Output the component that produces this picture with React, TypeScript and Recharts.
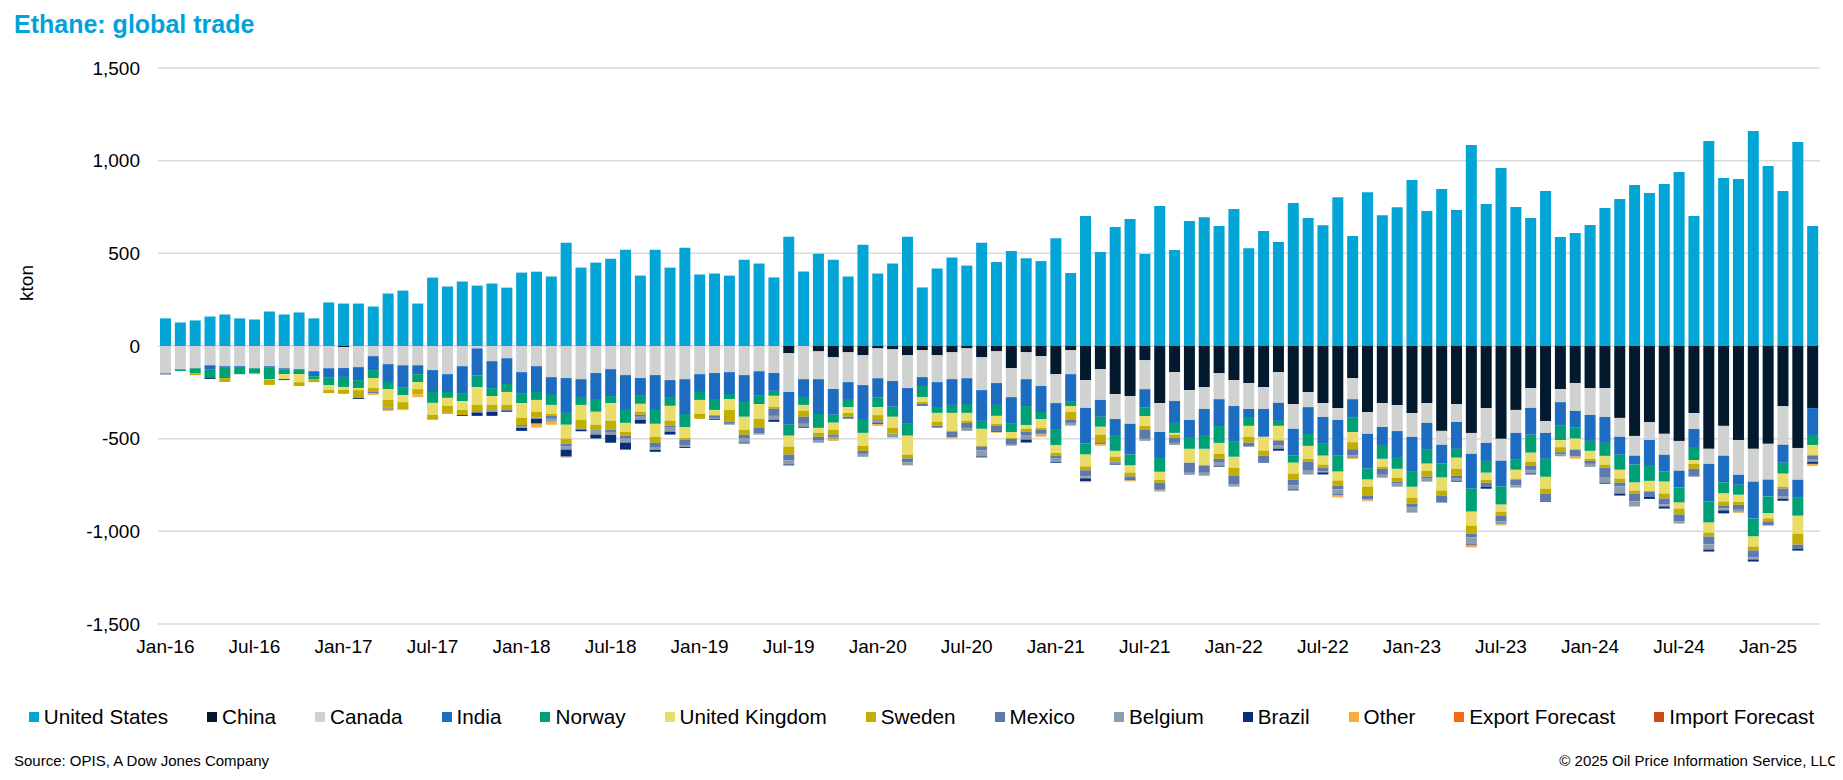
import { Bar, BarChart, CartesianGrid, XAxis, YAxis } from "recharts";

// month labels, Jan-16 .. Apr-25
const MONTH_NAMES = ["Jan", "Feb", "Mar", "Apr", "May", "Jun", "Jul", "Aug", "Sep", "Oct", "Nov", "Dec"];
const YEARS = ["16", "17", "18", "19", "20", "21", "22", "23", "24", "25"];
const MONTHS = YEARS.flatMap((y) => MONTH_NAMES.map((m) => `${m}-${y}`)).slice(0, 112);

const Y_TICKS = [-1500, -1000, -500, 0, 500, 1000, 1500];

// exports, kton (above zero)
const unitedStates = [
  149, 127, 138, 159, 170, 149, 143, 186, 170, 181, 149, 235, 229, 229, 213, 283, 299, 229, 369, 321, 348, 326, 337, 315, 396, 401, 375, 557,
  423, 450, 471, 520, 380, 520, 423, 530, 386, 391, 380, 466, 445, 370, 589, 402, 498, 466, 375, 546, 391, 445, 589, 316, 418, 477, 434, 557,
  453, 512, 474, 458, 582, 394, 701, 507, 642, 685, 496, 755, 518, 674, 695, 647, 739, 528, 620, 561, 771, 690, 652, 803, 593, 830, 706, 749,
  896, 729, 847, 734, 1085, 766, 961, 750, 691, 837, 588, 610, 653, 745, 793, 869, 826, 874, 939, 702, 1106, 907, 901, 1160, 971, 837, 1101, 648,
];

// imports, kton (drawn below zero)
const china = [
  0, 0, 0, 0, 0, 0, 0, 0, 0, 0, 0, 0, 6, 0, 0, 0, 0, 0, 0, 0, 0, 0, 0, 0, 0, 0, 0, 0,
  0, 0, 0, 0, 0, 0, 0, 0, 0, 0, 0, 0, 0, 0, 39, 0, 29, 61, 34, 50, 13, 18, 50, 23, 50, 34, 13, 61,
  29, 120, 34, 55, 152, 23, 184, 125, 260, 270, 77, 308, 141, 238, 222, 147, 184, 200, 222, 141, 313, 249, 308, 335, 174, 356, 308, 319,
  362, 308, 458, 313, 469, 335, 501, 345, 227, 405, 233, 200, 227, 227, 388, 485, 410, 474, 512, 362, 555, 431, 507, 555, 528, 324, 550, 335,
];
const canada = [
  146, 125, 120, 104, 109, 109, 120, 109, 120, 125, 136, 120, 113, 114, 55, 98, 104, 104, 130, 152, 109, 13, 82, 66, 141, 109, 168, 173,
  179, 146, 125, 157, 173, 157, 184, 179, 152, 146, 141, 157, 136, 146, 209, 179, 150, 171, 161, 161, 161, 171, 177, 145, 145, 145, 161, 177,
  171, 156, 145, 161, 156, 129, 150, 166, 134, 150, 156, 156, 156, 161, 118, 140, 140, 140, 118, 166, 134, 81, 75, 64, 113, 118, 129, 140,
  129, 107, 75, 97, 113, 188, 118, 124, 107, 64, 70, 150, 145, 156, 102, 107, 97, 113, 161, 86, 81, 161, 188, 177, 193, 209, 172, 0,
];
const india = [
  3, 3, 0, 21, 9, 9, 0, 5, 5, 0, 27, 48, 48, 70, 75, 96, 118, 48, 118, 96, 145, 145, 145, 139, 113, 139, 96, 188,
  96, 145, 145, 188, 96, 188, 96, 188, 96, 145, 118, 145, 129, 96, 177, 96, 188, 139, 91, 188, 102, 139, 193, 48, 139, 139, 139, 166,
  118, 140, 145, 140, 140, 145, 193, 91, 91, 166, 97, 140, 118, 97, 145, 145, 193, 48, 150, 97, 145, 145, 145, 193, 97, 188, 97, 140,
  188, 145, 102, 145, 188, 97, 140, 145, 145, 140, 124, 91, 140, 140, 97, 48, 140, 91, 91, 97, 204, 145, 54, 199, 91, 97, 97, 145,
];
const norway = [
  0, 7, 27, 48, 55, 34, 27, 64, 27, 27, 16, 43, 54, 43, 43, 38, 43, 43, 59, 32, 43, 64, 43, 43, 54, 43, 54, 64,
  43, 64, 38, 70, 43, 75, 43, 70, 43, 54, 27, 80, 48, 27, 59, 43, 75, 43, 43, 70, 54, 54, 64, 59, 27, 43, 48, 43,
  59, 48, 102, 38, 86, 27, 59, 54, 81, 59, 48, 75, 54, 59, 70, 91, 81, 43, 0, 27, 38, 64, 64, 86, 81, 59, 75, 64,
  81, 75, 75, 48, 124, 64, 97, 54, 97, 97, 81, 59, 54, 70, 81, 97, 81, 54, 81, 70, 113, 59, 54, 97, 91, 59, 97, 54,
];
const unitedKingdom = [
  0, 0, 0, 0, 0, 0, 0, 3, 27, 43, 0, 27, 16, 11, 54, 59, 38, 38, 64, 43, 48, 96, 48, 70, 80, 64, 48, 75,
  80, 70, 96, 48, 43, 70, 80, 59, 75, 27, 59, 70, 80, 59, 59, 32, 27, 38, 32, 70, 43, 59, 102, 27, 48, 96, 43, 91,
  43, 32, 21, 48, 43, 32, 64, 43, 32, 38, 54, 43, 11, 75, 86, 59, 59, 59, 75, 75, 59, 70, 48, 48, 54, 38, 43, 48,
  59, 38, 70, 59, 75, 38, 38, 48, 48, 64, 38, 59, 43, 48, 48, 43, 54, 64, 32, 21, 54, 43, 38, 54, 27, 70, 97, 54,
];
const sweden = [
  0, 0, 11, 0, 21, 0, 5, 29, 0, 21, 16, 16, 21, 43, 21, 43, 38, 27, 27, 38, 27, 38, 27, 27, 38, 32, 11, 27,
  48, 27, 48, 21, 16, 32, 27, 11, 27, 5, 64, 27, 48, 11, 43, 32, 21, 27, 21, 27, 21, 32, 21, 11, 21, 5, 11, 5,
  11, 5, 16, 11, 16, 43, 21, 43, 27, 21, 21, 16, 16, 0, 5, 27, 43, 32, 27, 5, 32, 16, 16, 27, 38, 48, 11, 21,
  32, 32, 27, 38, 43, 16, 21, 5, 21, 27, 27, 0, 11, 16, 21, 16, 5, 27, 32, 27, 21, 21, 16, 21, 16, 11, 59, 5,
];
const mexico = [
  5, 0, 0, 0, 0, 0, 0, 0, 0, 0, 0, 0, 0, 0, 7, 0, 0, 0, 0, 0, 0, 5, 0, 5, 5, 0, 16, 16,
  5, 5, 16, 16, 11, 27, 11, 27, 0, 11, 11, 21, 32, 38, 32, 38, 21, 11, 11, 16, 0, 0, 21, 11, 11, 32, 27, 21,
  27, 32, 21, 21, 11, 16, 32, 0, 5, 16, 48, 38, 27, 54, 38, 21, 48, 21, 32, 27, 32, 48, 21, 21, 32, 21, 32, 11,
  21, 11, 38, 16, 21, 21, 32, 32, 27, 38, 11, 38, 16, 54, 21, 43, 27, 32, 38, 38, 43, 16, 27, 38, 21, 43, 21, 21,
];
const belgium = [
  0, 0, 0, 0, 0, 0, 0, 0, 0, 0, 0, 0, 0, 0, 0, 11, 0, 0, 0, 5, 0, 0, 11, 0, 11, 5, 16, 16,
  0, 21, 11, 21, 16, 11, 21, 11, 0, 5, 5, 21, 5, 21, 21, 16, 11, 11, 0, 16, 21, 21, 16, 0, 0, 0, 16, 32,
  0, 5, 21, 5, 21, 11, 11, 0, 5, 0, 11, 5, 11, 11, 16, 16, 11, 0, 0, 16, 21, 21, 5, 27, 16, 5, 16, 16,
  27, 16, 0, 11, 38, 0, 16, 11, 16, 0, 11, 0, 16, 27, 38, 27, 0, 11, 11, 5, 27, 11, 11, 11, 0, 11, 0, 11,
];
const brazil = [
  0, 0, 0, 5, 0, 0, 0, 0, 5, 0, 0, 0, 0, 5, 0, 0, 0, 0, 0, 0, 5, 16, 21, 5, 16, 27, 0, 38,
  9, 21, 43, 38, 21, 11, 16, 5, 0, 5, 0, 5, 0, 11, 5, 5, 0, 0, 0, 0, 5, 0, 0, 0, 0, 0, 0, 5,
  5, 0, 16, 0, 5, 0, 16, 5, 5, 5, 0, 0, 0, 0, 0, 5, 0, 0, 5, 11, 5, 0, 11, 5, 0, 0, 0, 0,
  0, 0, 0, 5, 5, 11, 0, 0, 5, 5, 0, 0, 0, 5, 11, 0, 11, 11, 0, 0, 11, 16, 0, 11, 0, 11, 11, 11,
];
const other = [
  0, 0, 0, 0, 0, 0, 0, 0, 0, 0, 0, 0, 0, 0, 9, 5, 5, 16, 0, 0, 0, 0, 0, 0, 0, 21, 16, 5,
  0, 0, 0, 0, 0, 0, 0, 0, 0, 0, 0, 0, 0, 0, 0, 0, 0, 11, 0, 0, 11, 0, 0, 0, 0, 5, 0, 0,
  5, 0, 0, 11, 0, 5, 5, 11, 0, 5, 0, 5, 0, 0, 0, 0, 0, 0, 0, 0, 0, 0, 0, 11, 5, 5, 0, 0,
  0, 0, 0, 0, 11, 0, 5, 0, 0, 0, 0, 11, 0, 0, 0, 0, 0, 0, 0, 0, 0, 0, 5, 0, 5, 0, 0, 11,
];

const SERIES = [
  { key: "us", name: "United States", color: "#03A4D6", values: unitedStates, sign: 1 },
  { key: "china", name: "China", color: "#02192E", values: china, sign: -1 },
  { key: "canada", name: "Canada", color: "#D0D1D1", values: canada, sign: -1 },
  { key: "india", name: "India", color: "#1C6DC1", values: india, sign: -1 },
  { key: "norway", name: "Norway", color: "#00A077", values: norway, sign: -1 },
  { key: "uk", name: "United Kingdom", color: "#E9DC69", values: unitedKingdom, sign: -1 },
  { key: "sweden", name: "Sweden", color: "#C2AE00", values: sweden, sign: -1 },
  { key: "mexico", name: "Mexico", color: "#5E79AE", values: mexico, sign: -1 },
  { key: "belgium", name: "Belgium", color: "#8D9DAB", values: belgium, sign: -1 },
  { key: "brazil", name: "Brazil", color: "#082E7A", values: brazil, sign: -1 },
  { key: "other", name: "Other", color: "#F6AE3F", values: other, sign: -1 },
];

// forecast series are in the legend only, no bars in this period
const LEGEND = [
  ...SERIES.map((s) => ({ name: s.name, color: s.color })),
  { name: "Export Forecast", color: "#F46B12" },
  { name: "Import Forecast", color: "#CC4A14" },
];

const rows = MONTHS.map((month, i) => {
  const row: Record<string, string | number> = { month };
  SERIES.forEach((s) => {
    row[s.key] = s.sign * s.values[i];
  });
  return row;
});

const FONT = "'Liberation Sans', Arial, Helvetica, sans-serif";

export default function App() {
  return (
    <div
      style={{
        position: "relative",
        width: 1843,
        height: 780,
        margin: -8,
        background: "#FFFFFF",
        fontFamily: FONT,
        overflow: "hidden",
      }}
    >
      <div style={{ position: "absolute", left: 14, top: 12, fontSize: 25, lineHeight: 1, fontWeight: 700, color: "#00A3D8" }}>
        Ethane: global trade
      </div>

      <div
        style={{
          position: "absolute",
          left: 26,
          top: 283,
          fontSize: 19,
          lineHeight: 1,
          color: "#000",
          transform: "translate(-50%, -50%) rotate(-90deg)",
        }}
      >
        kton
      </div>

      <BarChart
        width={1843}
        height={780}
        data={rows}
        stackOffset="sign"
        barSize={11}
        margin={{ top: 68, right: 23, bottom: 126, left: 0 }}
        style={{ position: "absolute", left: 0, top: 0, fontFamily: FONT }}
      >
        <CartesianGrid vertical={false} stroke="#D9D9D9" strokeWidth={1.5} />
        <XAxis
          dataKey="month"
          interval={5}
          axisLine={false}
          tickLine={false}
          tickSize={0}
          tickMargin={16}
          height={30}
          tick={{ fontSize: 19, fill: "#000" }}
        />
        <YAxis
          type="number"
          domain={[-1500, 1500]}
          ticks={Y_TICKS}
          width={158}
          axisLine={false}
          tickLine={false}
          tickSize={0}
          tickMargin={18}
          tick={{ fontSize: 19, fill: "#000" }}
          tickFormatter={(v: number) => v.toLocaleString("en-US")}
        />
        {SERIES.map((s) => (
          <Bar key={s.key} dataKey={s.key} name={s.name} stackId="trade" fill={s.color} isAnimationActive={false} />
        ))}
      </BarChart>

      {/* legend */}
      <div
        style={{
          position: "absolute",
          left: 0,
          top: 707,
          width: 1843,
          display: "flex",
          justifyContent: "center",
          alignItems: "center",
          gap: 39,
          fontSize: 20.7,
          lineHeight: 1,
          color: "#000",
        }}
      >
        {LEGEND.map((item) => (
          <div key={item.name} style={{ display: "flex", alignItems: "center", gap: 5, whiteSpace: "nowrap" }}>
            <span style={{ width: 10, height: 10, background: item.color, display: "inline-block" }} />
            <span>{item.name}</span>
          </div>
        ))}
      </div>

      <div style={{ position: "absolute", left: 14, top: 753, fontSize: 15, lineHeight: 1, color: "#000" }}>
        Source: OPIS, A Dow Jones Company
      </div>
      <div style={{ position: "absolute", right: 5, top: 753, fontSize: 15, lineHeight: 1, color: "#000" }}>
        © 2025 Oil Price Information Service, LLC
      </div>
    </div>
  );
}
